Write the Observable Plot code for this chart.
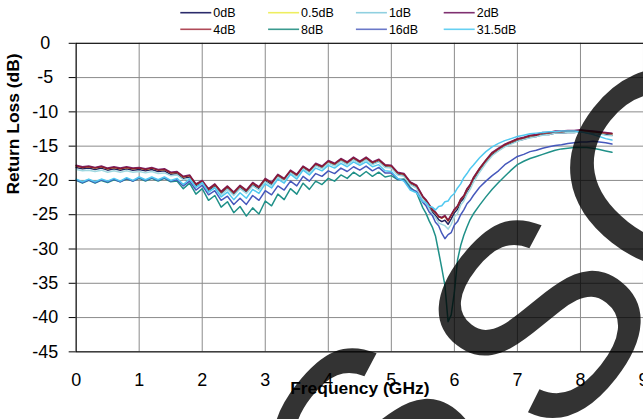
<!DOCTYPE html>
<html><head><meta charset="utf-8">
<script src="https://cdn.jsdelivr.net/npm/d3@7"></script>
<script src="https://cdn.jsdelivr.net/npm/@observablehq/plot@0.6"></script>
<style>
html,body{margin:0;padding:0;background:#fff;overflow:hidden;width:643px;height:419px}
#wrap{position:relative;width:643px;height:419px;overflow:hidden;font-family:"Liberation Sans",Arial,sans-serif}
#chart{position:absolute;left:0;top:0}
#legend{position:absolute;left:0;top:0}
#wm{position:absolute;left:0;top:0;pointer-events:none}
</style></head><body>
<div id="wrap"><div id="chart"></div><svg id="legend" width="643" height="40"></svg><svg id="wm" width="643" height="419"></svg></div>
<script>
// Frequency grid (GHz)
const freq = [0,0.1,0.2,0.3,0.4,0.5,0.6,0.7,0.8,0.9,1.0,1.1,1.2,1.3,1.4,1.5,1.6,1.7,1.8,1.9,2.0,2.1,2.2,2.3,2.4,2.5,2.6,2.7,2.8,2.9,3.0,3.1,3.2,3.3,3.4,3.5,3.6,3.7,3.8,3.9,4.0,4.1,4.2,4.3,4.4,4.5,4.6,4.7,4.8,4.9,5.0,5.1,5.2,5.3,5.4,5.5,
5.55,5.6,5.65,5.7,5.75,5.8,5.85,5.9,5.95,6.0,6.05,6.1,6.15,6.2,6.25,6.3,
6.4,6.5,6.6,6.7,6.8,6.9,7.0,7.1,7.2,7.3,7.4,7.5,7.6,7.7,7.8,7.9,8.0,8.1,8.2,8.3,8.4,8.5];

const rl0dB = [-18.1,-18.3,-18.2,-18.4,-18.2,-18.5,-18.3,-18.5,-18.3,-18.5,-18.4,-18.6,-18.4,-18.7,-18.6,-19.1,-19.0,-19.7,-19.5,-20.8,-20.3,-21.5,-20.8,-21.9,-21.1,-22.0,-21.0,-21.7,-20.6,-21.2,-20.0,-20.6,-19.4,-20.0,-18.8,-19.4,-18.2,-18.8,-17.8,-18.2,-17.4,-17.8,-17.1,-17.6,-16.9,-17.5,-16.9,-17.6,-17.2,-18.0,-18.1,-19.1,-19.3,-20.5,-21.0,-22.6,
-23.2,-23.9,-24.6,-25.1,-25.7,-26.0,-25.8,-26.4,-25.6,-24.7,-24.2,-23.1,-22.6,-21.6,-20.9,-19.9,
-18.5,-17.3,-16.2,-15.6,-15.0,-14.6,-14.2,-14.0,-13.7,-13.6,-13.3,-13.3,-13.1,-13.1,-13.0,-13.0,-12.9,-13.0,-13.1,-13.2,-13.3,-13.4];

const rl05dB = [-17.9,-18.1,-18.0,-18.2,-18.0,-18.3,-18.1,-18.3,-18.1,-18.3,-18.2,-18.4,-18.2,-18.5,-18.4,-18.9,-18.8,-19.5,-19.3,-20.6,-20.1,-21.3,-20.6,-21.7,-20.9,-21.8,-20.8,-21.5,-20.4,-21.0,-19.8,-20.4,-19.2,-19.8,-18.6,-19.2,-18.0,-18.6,-17.6,-18.0,-17.2,-17.6,-16.9,-17.4,-16.7,-17.3,-16.7,-17.4,-17.0,-17.8,-17.9,-18.9,-19.1,-20.3,-20.8,-22.4,
-22.9,-23.6,-24.3,-24.7,-25.3,-25.5,-25.2,-25.9,-25.1,-24.3,-23.8,-22.8,-22.3,-21.3,-20.7,-19.7,
-18.3,-17.1,-16.0,-15.4,-14.8,-14.4,-14.0,-13.8,-13.5,-13.4,-13.1,-13.1,-12.9,-12.9,-12.8,-12.8,-12.7,-12.8,-12.9,-13.0,-13.1,-13.2];

const rl1dB = [-18.4,-18.6,-18.5,-18.7,-18.5,-18.8,-18.6,-18.8,-18.6,-18.8,-18.7,-18.9,-18.7,-19.0,-18.9,-19.3,-19.2,-19.9,-19.7,-21.0,-20.5,-21.7,-21.0,-22.1,-21.3,-22.2,-21.2,-21.9,-20.8,-21.4,-20.2,-20.8,-19.5,-20.1,-18.9,-19.5,-18.3,-18.9,-17.9,-18.3,-17.5,-17.9,-17.2,-17.7,-17.0,-17.6,-17.0,-17.7,-17.3,-18.1,-18.2,-19.2,-19.4,-20.6,-21.1,-22.7,
-23.3,-24.1,-24.9,-25.4,-26.2,-26.4,-26.6,-27.1,-26.4,-25.3,-24.8,-23.6,-23.0,-22.0,-21.3,-20.3,
-18.8,-17.5,-16.4,-15.7,-15.1,-14.7,-14.3,-14.0,-13.8,-13.6,-13.4,-13.3,-13.1,-13.1,-13.0,-13.0,-12.9,-13.0,-13.1,-13.2,-13.4,-13.5];

const rl2dB = [-17.8,-18.0,-17.9,-18.1,-17.9,-18.2,-18.0,-18.2,-18.0,-18.2,-18.1,-18.3,-18.1,-18.4,-18.3,-18.8,-18.7,-19.4,-19.2,-20.5,-20.0,-21.2,-20.5,-21.6,-20.8,-21.7,-20.7,-21.4,-20.3,-20.9,-19.7,-20.3,-19.1,-19.7,-18.5,-19.1,-17.9,-18.5,-17.5,-17.9,-17.1,-17.5,-16.8,-17.3,-16.6,-17.2,-16.6,-17.3,-16.9,-17.7,-17.8,-18.8,-19.0,-20.2,-20.7,-22.3,
-22.8,-23.5,-24.2,-24.6,-25.2,-25.4,-25.1,-25.8,-25.0,-24.2,-23.7,-22.7,-22.2,-21.2,-20.6,-19.6,
-18.2,-17.0,-15.9,-15.3,-14.7,-14.3,-13.9,-13.7,-13.4,-13.3,-13.0,-13.0,-12.8,-12.8,-12.7,-12.7,-12.6,-12.7,-12.8,-12.9,-13.0,-13.1];

const rl4dB = [-17.9,-18.1,-18.0,-18.2,-18.0,-18.3,-18.1,-18.3,-18.1,-18.3,-18.2,-18.4,-18.2,-18.5,-18.4,-18.9,-18.8,-19.5,-19.3,-20.6,-20.1,-21.3,-20.6,-21.7,-20.9,-21.8,-20.8,-21.5,-20.4,-21.0,-19.8,-20.4,-19.2,-19.8,-18.6,-19.2,-18.0,-18.6,-17.6,-18.0,-17.2,-17.6,-16.9,-17.4,-16.7,-17.3,-16.7,-17.4,-17.0,-17.8,-17.9,-18.9,-19.1,-20.3,-20.8,-22.4,
-22.9,-23.6,-24.3,-24.7,-25.3,-25.5,-25.2,-25.9,-25.1,-24.3,-23.8,-22.8,-22.3,-21.3,-20.7,-19.7,
-18.3,-17.1,-16.0,-15.4,-14.8,-14.4,-14.0,-13.8,-13.5,-13.4,-13.1,-13.1,-12.9,-12.9,-12.8,-12.8,-12.7,-12.8,-12.9,-13.0,-13.1,-13.2];

const rl8dB = [-20.0,-20.4,-20.0,-20.4,-20.0,-20.3,-19.9,-20.2,-19.8,-20.1,-19.7,-20.1,-19.7,-20.1,-19.7,-20.2,-20.1,-21.2,-20.4,-22.0,-21.2,-22.9,-22.2,-23.9,-23.1,-24.7,-23.8,-25.2,-24.0,-24.9,-23.0,-23.7,-22.0,-22.8,-21.2,-22.0,-20.4,-21.3,-20.1,-20.6,-19.7,-20.1,-19.2,-19.7,-18.8,-19.4,-18.7,-19.4,-18.8,-19.5,-19.3,-19.9,-19.8,-21.0,-21.8,-24.0,
-24.8,-25.9,-26.8,-28.1,-30.4,-32.8,-35.3,-40.6,-39.6,-36.3,-31.6,-29.5,-28.0,-26.8,-25.7,-24.9,
-23.6,-22.4,-21.3,-20.3,-19.4,-18.5,-17.7,-17.2,-16.8,-16.5,-16.2,-15.9,-15.6,-15.4,-15.3,-15.2,-15.2,-15.2,-15.3,-15.5,-15.7,-15.9];

const rl16dB = [-19.9,-20.3,-19.9,-20.3,-19.9,-20.2,-19.8,-20.2,-19.7,-20.1,-19.6,-20.0,-19.6,-20.0,-19.6,-20.1,-19.9,-20.8,-20.1,-21.4,-20.7,-22.1,-21.5,-22.9,-22.3,-23.5,-22.6,-23.5,-22.2,-22.9,-21.5,-22.1,-20.8,-21.4,-20.1,-20.8,-19.4,-20.1,-19.0,-19.4,-18.6,-19.0,-18.2,-18.7,-18.0,-18.5,-17.9,-18.6,-18.1,-18.9,-18.9,-19.8,-20.0,-21.2,-21.6,-23.2,
-23.7,-24.6,-25.1,-26.1,-26.6,-27.7,-28.5,-27.9,-27.6,-26.5,-26.0,-25.0,-24.3,-23.4,-22.9,-22.2,
-21.0,-20.1,-19.3,-18.6,-17.7,-17.1,-16.5,-16.2,-15.8,-15.6,-15.3,-15.1,-14.9,-14.8,-14.6,-14.5,-14.4,-14.4,-14.3,-14.4,-14.5,-14.7];

const rl315dB = [-19.8,-20.2,-19.8,-20.2,-19.8,-20.1,-19.7,-20.1,-19.6,-20.0,-19.5,-19.9,-19.5,-19.9,-19.5,-20.0,-19.7,-20.6,-19.8,-21.0,-20.3,-21.7,-21.1,-22.4,-21.7,-22.8,-21.8,-22.6,-21.3,-21.9,-20.5,-21.1,-19.8,-20.4,-19.1,-19.8,-18.5,-19.2,-18.2,-18.6,-17.8,-18.2,-17.5,-18.0,-17.3,-17.8,-17.3,-18.0,-17.7,-18.6,-18.7,-19.7,-20.1,-21.4,-21.8,-23.1,
-23.2,-23.8,-23.9,-24.3,-23.8,-23.7,-23.1,-23.0,-22.3,-21.9,-21.1,-20.5,-19.6,-19.0,-18.3,-17.8,
-16.7,-15.8,-15.1,-14.6,-14.2,-13.9,-13.6,-13.4,-13.2,-13.1,-13.0,-12.9,-12.9,-12.8,-12.8,-12.8,-12.9,-13.1,-13.3,-13.6,-13.9,-14.1];

const seriesNames = ["0dB","0.5dB","1dB","2dB","4dB","8dB","16dB","31.5dB"];
const seriesValues = [rl0dB, rl05dB, rl1dB, rl2dB, rl4dB, rl8dB, rl16dB, rl315dB];
const seriesColors = ["#22225e","#eeee55","#a0d8e0","#7a2470","#8a1a32","#1f9088","#4658bc","#50c8f0"];
const legendColors = ["#2b2b6b","#eeee60","#90d0e0","#7f3070","#b04a58","#3a9a8f","#6a78c8","#66d0f2"];
const xTicks = [0,1,2,3,4,5,6,7,8,9];
const yTicks = [0,-5,-10,-15,-20,-25,-30,-35,-40,-45];
const xTitle = "Frequency (GHz)";
const yTitle = "Return Loss (dB)";
const watermark = ["S","S","O"];

const rows = [];
seriesValues.forEach((vals, k) => vals.forEach((v, i) => rows.push({f: freq[i], db: v, s: seriesNames[k]})));

const font = '"Liberation Sans", Arial, sans-serif';
const chart = Plot.plot({
  width: 646, height: 419,
  marginLeft: 76, marginRight: 0, marginTop: 43, marginBottom: 66,
  style: {fontFamily: font, fontSize: "18px", color: "#000", background: "transparent", overflow: "visible"},
  x: {domain: [0, 9], label: null},
  y: {domain: [-45, 0], label: null},
  color: {domain: seriesNames, range: seriesColors},
  marks: [
    Plot.gridX(xTicks, {stroke: "#8a8a8a", strokeOpacity: 1}),
    Plot.gridY(yTicks, {stroke: "#8a8a8a", strokeOpacity: 1}),
    Plot.lineY(rows, {x: "f", y: "db", z: "s", stroke: "s", strokeWidth: 1.5}),
    Plot.frame({stroke: "#000"}),
    Plot.axisX(xTicks, {tickSize: 0, tickPadding: 22, fontSize: 18, tickFormat: d => String(d), label: null}),
    Plot.axisY(yTicks, {tickSize: 7, tickPadding: 24, textAnchor: "middle", fontSize: 18, tickFormat: d => String(d), label: null}),
    Plot.text([xTitle], {frameAnchor: "bottom", dy: 42, fontWeight: "bold", fontSize: 17.5}),
    Plot.text([yTitle], {frameAnchor: "left", dx: -63.5, dy: -3, rotate: -90, fontWeight: "bold", fontSize: 17.5})
  ]
});
document.getElementById("chart").appendChild(chart);

// Legend (two rows of four)
const lg = d3.select("#legend");
seriesNames.forEach((name, k) => {
  const col = k % 4, row = Math.floor(k / 4);
  const x0 = 180.3 + col * 87.8, y0 = 12.7 + row * 16.6;
  lg.append("line").attr("x1", x0).attr("x2", x0 + 31).attr("y1", y0).attr("y2", y0)
    .attr("stroke", legendColors[k]).attr("stroke-width", 1.6);
  lg.append("text").attr("x", x0 + 33).attr("y", y0).attr("dy", "0.35em")
    .attr("font-family", font).attr("font-size", 12.5).attr("fill", "#000").text(name);
});

// Watermark overlay
const wm = d3.select("#wm");
const wmCenters = [[370, 444], [535, 316], [668, 166]];
watermark.forEach((ch, i) => {
  const [cx, cy] = wmCenters[i];
  wm.append("text").attr("x", cx).attr("y", cy).attr("dy", "0.358em")
    .attr("text-anchor", "middle").attr("font-family", font).attr("font-size", 278)
    .attr("fill", "#000").attr("fill-opacity", 0.8)
    .attr("transform", `rotate(-52 ${cx} ${cy})`).text(ch);
});
</script>
</body></html>
